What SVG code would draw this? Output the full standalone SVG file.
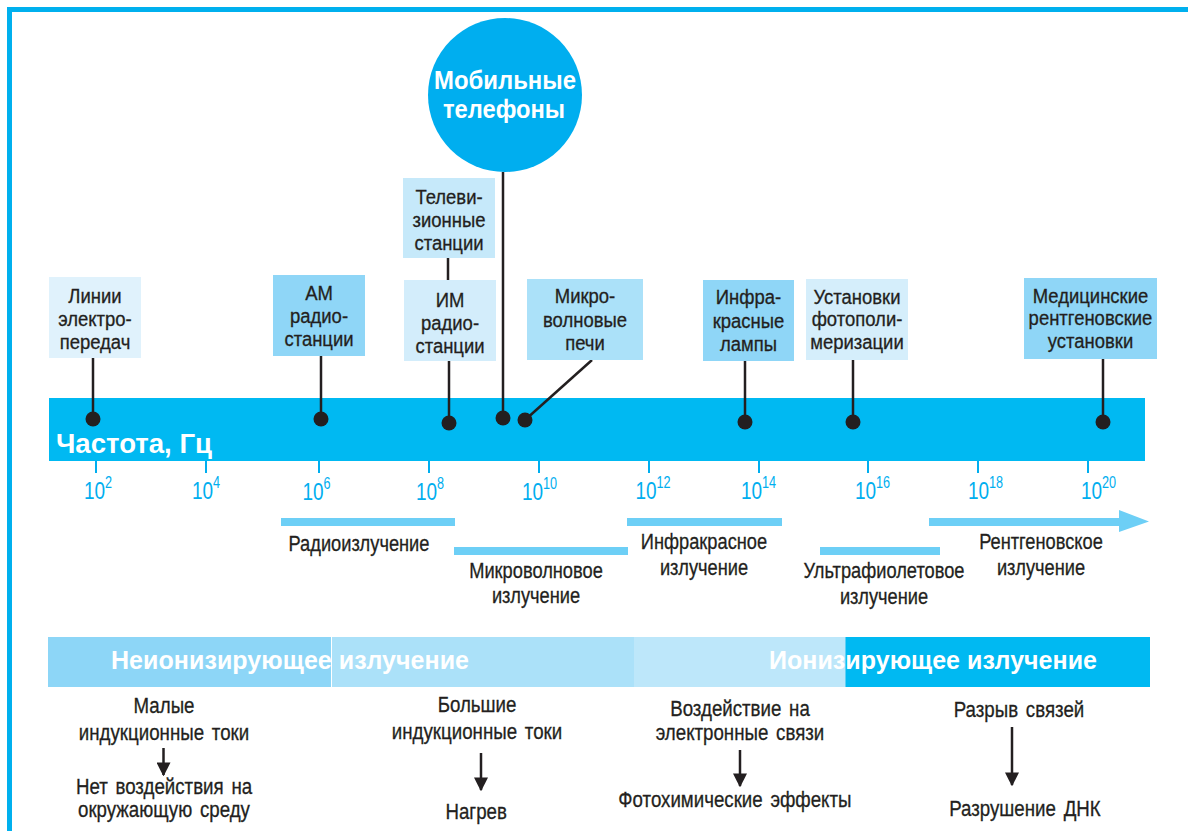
<svg xmlns="http://www.w3.org/2000/svg" width="1188" height="831" viewBox="0 0 1188 831">
<style>
.t{font-family:"Liberation Sans",Arial,sans-serif;fill:#231f20;stroke:#231f20;stroke-width:0.3;text-anchor:middle}
.bx{font-size:21px}
.lb{font-size:22px;word-spacing:3px}
.b{font-family:"Liberation Sans",Arial,sans-serif;font-weight:bold;fill:#fff}
.tk{font-family:"Liberation Sans",Arial,sans-serif;fill:#00aeef;font-size:24px}
.sup{font-size:16px}
.ln{stroke:#231f20;stroke-width:2.5;fill:none}
.ar{stroke:#231f20;stroke-width:2.5;fill:none;marker-end:url(#ah)}
.dot{fill:#231f20}
.tick{stroke:#00aeef;stroke-width:2}
.bar{fill:#6dcff6}
</style>
<defs>
<marker id="ah" viewBox="0 0 10 10" refX="9" refY="5" markerUnits="userSpaceOnUse" markerWidth="14" markerHeight="14" orient="auto">
<path d="M0,0 L10,5 L0,10 z" fill="#231f20"/>
</marker>
</defs>
<rect width="1188" height="831" fill="#fff"/>
<path d="M9.5,831 V9.5 H1188" fill="none" stroke="#00b0ee" stroke-width="5"/>

<g id="band">
<rect x="49" y="398" width="1096" height="63" fill="#00b9f2"/>
<text class="b" x="56" y="453" font-size="27" textLength="156" lengthAdjust="spacingAndGlyphs">Частота, Гц</text>
</g>

<g id="ticks">
<g class="tick">
<line x1="96" y1="461" x2="96" y2="473"/>
<line x1="206" y1="461" x2="206" y2="473"/>
<line x1="319" y1="461" x2="319" y2="473"/>
<line x1="429" y1="461" x2="429" y2="473"/>
<line x1="539" y1="461" x2="539" y2="473"/>
<line x1="649" y1="461" x2="649" y2="473"/>
<line x1="759" y1="461" x2="759" y2="473"/>
<line x1="868" y1="461" x2="868" y2="473"/>
<line x1="978" y1="461" x2="978" y2="473"/>
<line x1="1088" y1="461" x2="1088" y2="473"/>
</g>
<g transform="translate(84 0) scale(0.79 1)"><text class="tk" y="499">10<tspan class="sup" dy="-11">2</tspan></text></g>
<g transform="translate(192 0) scale(0.79 1)"><text class="tk" y="499">10<tspan class="sup" dy="-11">4</tspan></text></g>
<g transform="translate(302.5 0) scale(0.79 1)"><text class="tk" y="500">10<tspan class="sup" dy="-11">6</tspan></text></g>
<g transform="translate(416 0) scale(0.79 1)"><text class="tk" y="500">10<tspan class="sup" dy="-11">8</tspan></text></g>
<g transform="translate(522 0) scale(0.79 1)"><text class="tk" y="500">10<tspan class="sup" dy="-11">10</tspan></text></g>
<g transform="translate(635.5 0) scale(0.79 1)"><text class="tk" y="499">10<tspan class="sup" dy="-11">12</tspan></text></g>
<g transform="translate(741 0) scale(0.79 1)"><text class="tk" y="499">10<tspan class="sup" dy="-11">14</tspan></text></g>
<g transform="translate(855 0) scale(0.79 1)"><text class="tk" y="499">10<tspan class="sup" dy="-11">16</tspan></text></g>
<g transform="translate(968 0) scale(0.79 1)"><text class="tk" y="499">10<tspan class="sup" dy="-11">18</tspan></text></g>
<g transform="translate(1081 0) scale(0.79 1)"><text class="tk" y="499">10<tspan class="sup" dy="-11">20</tspan></text></g>
</g>

<g id="connectors">
<line class="ln" x1="93" y1="358" x2="93" y2="419"/>
<line class="ln" x1="321" y1="356" x2="321" y2="419"/>
<line class="ln" x1="448" y1="258" x2="448" y2="280"/>
<line class="ln" x1="449" y1="361" x2="449" y2="423"/>
<line class="ln" x1="503" y1="172" x2="503" y2="418"/>
<line class="ln" x1="592" y1="360" x2="525" y2="420"/>
<line class="ln" x1="745" y1="361" x2="745" y2="422"/>
<line class="ln" x1="853" y1="360" x2="853" y2="422"/>
<line class="ln" x1="1103" y1="359" x2="1103" y2="422"/>
<g class="dot">
<circle cx="93" cy="419" r="7.5"/>
<circle cx="321" cy="419" r="7.5"/>
<circle cx="449" cy="423" r="7.5"/>
<circle cx="503" cy="418" r="7.5"/>
<circle cx="525" cy="420" r="7.5"/>
<circle cx="745" cy="422" r="7.5"/>
<circle cx="853" cy="422" r="7.5"/>
<circle cx="1103" cy="422" r="7.5"/>
</g>
</g>

<g id="power-lines">
<rect x="49" y="277" width="92" height="81" fill="#e0f2fc"/>
<g transform="translate(95 0) scale(0.88 1)"><text class="t bx"><tspan x="0" y="303">Линии</tspan><tspan x="0" y="326">электро-</tspan><tspan x="0" y="349">передач</tspan></text></g>
</g>
<g id="am-radio">
<rect x="273" y="275" width="92" height="81" fill="#8fd6f7"/>
<g transform="translate(319 0) scale(0.88 1)"><text class="t bx"><tspan x="0" y="300">АМ</tspan><tspan x="0" y="323">радио-</tspan><tspan x="0" y="346">станции</tspan></text></g>
</g>
<g id="tv-stations">
<rect x="403" y="178" width="92" height="80" fill="#c6e9fa"/>
<g transform="translate(449 0) scale(0.88 1)"><text class="t bx"><tspan x="0" y="204">Телеви-</tspan><tspan x="0" y="227">зионные</tspan><tspan x="0" y="250">станции</tspan></text></g>
</g>
<g id="fm-radio">
<rect x="404" y="280" width="92" height="81" fill="#d3edfb"/>
<g transform="translate(450 0) scale(0.88 1)"><text class="t bx"><tspan x="0" y="307">ИМ</tspan><tspan x="0" y="330">радио-</tspan><tspan x="0" y="353">станции</tspan></text></g>
</g>
<g id="mobile-phones">
<circle cx="505" cy="95" r="77" fill="#00aeef"/>
<text class="b" x="505" y="89" font-size="26" text-anchor="middle" textLength="142" lengthAdjust="spacingAndGlyphs">Мобильные</text>
<text class="b" x="504" y="118" font-size="26" text-anchor="middle" textLength="122" lengthAdjust="spacingAndGlyphs">телефоны</text>
</g>
<g id="microwave-ovens">
<rect x="527" y="279" width="116" height="81" fill="#abe1f9"/>
<g transform="translate(585 0) scale(0.88 1)"><text class="t bx"><tspan x="0" y="303">Микро-</tspan><tspan x="0" y="327">волновые</tspan><tspan x="0" y="350">печи</tspan></text></g>
</g>
<g id="infrared-lamps">
<rect x="703" y="280" width="91" height="81" fill="#8fd6f7"/>
<g transform="translate(748.5 0) scale(0.88 1)"><text class="t bx"><tspan x="0" y="304">Инфра-</tspan><tspan x="0" y="328">красные</tspan><tspan x="0" y="351">лампы</tspan></text></g>
</g>
<g id="photopolymerization">
<rect x="806" y="279" width="102" height="81" fill="#d5eefb"/>
<g transform="translate(857 0) scale(0.88 1)"><text class="t bx"><tspan x="0" y="304">Установки</tspan><tspan x="0" y="326">фотополи-</tspan><tspan x="0" y="349">меризации</tspan></text></g>
</g>
<g id="xray-units">
<rect x="1024" y="278" width="133" height="81" fill="#8fd6f7"/>
<g transform="translate(1090.5 0) scale(0.88 1)"><text class="t bx"><tspan x="0" y="303">Медицинские</tspan><tspan x="0" y="325">рентгеновские</tspan><tspan x="0" y="348">установки</tspan></text></g>
</g>

<g id="radio-range">
<rect class="bar" x="281" y="518" width="174" height="8"/>
<g transform="translate(359 0) scale(0.83 1)"><text class="t lb" x="0" y="551">Радиоизлучение</text></g>
</g>
<g id="microwave-range">
<rect class="bar" x="454" y="547" width="174" height="8"/>
<g transform="translate(536 0) scale(0.83 1)"><text class="t lb"><tspan x="0" y="578">Микроволновое</tspan><tspan x="0" y="603">излучение</tspan></text></g>
</g>
<g id="infrared-range">
<rect class="bar" x="627" y="518" width="155" height="8"/>
<g transform="translate(704 0) scale(0.83 1)"><text class="t lb"><tspan x="0" y="549">Инфракрасное</tspan><tspan x="0" y="575">излучение</tspan></text></g>
</g>
<g id="uv-range">
<rect class="bar" x="820" y="547" width="120" height="8"/>
<g transform="translate(884 0) scale(0.83 1)"><text class="t lb"><tspan x="0" y="578">Ультрафиолетовое</tspan><tspan x="0" y="604">излучение</tspan></text></g>
</g>
<g id="xray-range">
<path class="bar" d="M929,518 H1119 V510 L1149,521.5 L1119,532 V526 H929 Z"/>
<g transform="translate(1041 0) scale(0.83 1)"><text class="t lb"><tspan x="0" y="549">Рентгеновское</tspan><tspan x="0" y="575">излучение</tspan></text></g>
</g>

<g id="ionization-band">
<rect x="48" y="637" width="283" height="50" fill="#8dd6f7"/>
<rect x="332" y="637" width="302.5" height="50" fill="#abe1f9"/>
<rect x="634" y="637" width="212" height="50" fill="#bde7fa"/>
<rect x="845.5" y="637" width="304.5" height="50" fill="#00b9f2"/>
<text class="b" x="111" y="669" font-size="25" textLength="358">Неионизирующее излучение</text>
<text class="b" x="769" y="669" font-size="25" textLength="328">Ионизирующее излучение</text>
</g>

<g id="effect-low">
<g transform="translate(164 0) scale(0.85 1)"><text class="t lb"><tspan x="0" y="713">Малые</tspan><tspan x="0" y="740">индукционные токи</tspan><tspan x="0" y="794">Нет воздействия на</tspan><tspan x="0" y="817">окружающую среду</tspan></text></g>
</g>
<g id="effect-high">
<g transform="translate(477 0) scale(0.85 1)"><text class="t lb"><tspan x="0" y="712">Большие</tspan><tspan x="0" y="739">индукционные токи</tspan><tspan x="-1" y="819">Нагрев</tspan></text></g>
</g>
<g id="effect-electron">
<g transform="translate(740 0) scale(0.85 1)"><text class="t lb"><tspan x="0" y="716">Воздействие на</tspan><tspan x="0" y="740">электронные связи</tspan><tspan x="-6" y="807">Фотохимические эффекты</tspan></text></g>
</g>
<g id="effect-dna">
<g transform="translate(1019 0) scale(0.85 1)"><text class="t lb"><tspan x="0" y="717">Разрыв связей</tspan><tspan x="7" y="816">Разрушение ДНК</tspan></text></g>
</g>
<g id="effect-arrows">
<line class="ar" x1="163.5" y1="748" x2="163.5" y2="775"/>
<line class="ar" x1="481" y1="753" x2="481" y2="790"/>
<line class="ar" x1="740" y1="750" x2="740" y2="786"/>
<line class="ar" x1="1012" y1="727" x2="1012" y2="785"/>
</g>
</svg>
